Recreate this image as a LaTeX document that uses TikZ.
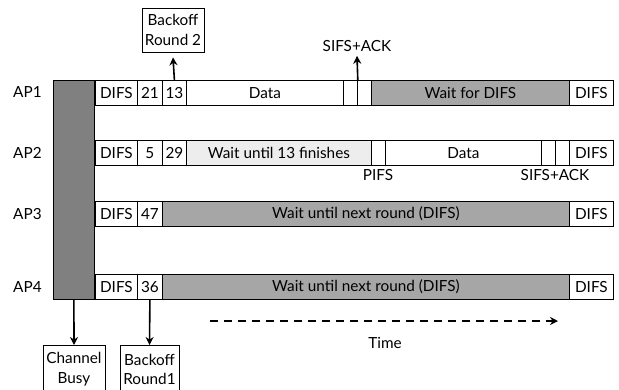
\documentclass[tikz,border=0pt]{standalone}
\usepackage{fontspec}
\setmainfont{Lato}
\usetikzlibrary{arrows.meta}
\definecolor{busyg}{gray}{0.5}
\definecolor{waitg}{gray}{0.65}
\definecolor{lightg}{gray}{0.93}
\begin{document}
\begin{tikzpicture}[x=1pt,y=-1pt,
  every node/.style={font=\fontsize{15.3}{19.5}\selectfont},
  cell/.style={draw, line width=0.8pt, inner sep=0pt, minimum height=25pt, anchor=north west, fill=white},
  lbl/.style={inner sep=0pt},
  tag/.style={draw, line width=0.8pt, align=center, inner sep=1pt, fill=white},
  arr/.style={line width=1.6pt, -{Stealth[length=8pt,width=8pt]}},
]
\useasboundingbox (0,0) rectangle (619,389);

% channel busy block
\node[draw, fill=busyg, line width=0.8pt, minimum width=41pt, minimum height=219pt, anchor=north west, inner sep=0pt] (busy) at (53,80) {};

% AP labels
\node[lbl, anchor=west] (ap1) at (13,92) {AP1};
\node[lbl, anchor=west] (ap2) at (13,153) {AP2};
\node[lbl, anchor=west] (ap3) at (13,214) {AP3};
\node[lbl, anchor=west] (ap4) at (13,287) {AP4};

% AP1 row
\node[cell, minimum width=42pt] (a1d) at (95,80) {DIFS};
\node[cell, minimum width=25pt] (a1b1) at (137,80) {21};
\node[cell, minimum width=24pt] (a1b2) at (162,80) {13};
\node[cell, minimum width=157pt] (a1data) at (186,80) {Data};
\node[cell, minimum width=14pt] (a1s1) at (343,80) {};
\node[cell, minimum width=14pt] (a1s2) at (357,80) {};
\node[cell, minimum width=198pt, fill=waitg] (a1w) at (371,80) {Wait for DIFS};
\node[cell, minimum width=44pt] (a1e) at (569,80) {DIFS};

% AP2 row
\node[cell, minimum width=42pt] (a2d) at (95,140) {DIFS};
\node[cell, minimum width=25pt] (a2b1) at (137,140) {5};
\node[cell, minimum width=24pt] (a2b2) at (162,140) {29};
\node[cell, minimum width=185pt, fill=lightg] (a2w) at (186,140) {Wait until 13 finishes};
\node[cell, minimum width=14pt] (a2p) at (371,140) {};
\node[cell, minimum width=156pt] (a2data) at (385,140) {Data};
\node[cell, minimum width=14pt] (a2s1) at (541,140) {};
\node[cell, minimum width=14pt] (a2s2) at (555,140) {};
\node[cell, minimum width=44pt] (a2e) at (569,140) {DIFS};

% AP3 row
\node[cell, minimum width=42pt] (a3d) at (95,201) {DIFS};
\node[cell, minimum width=25pt] (a3b1) at (137,201) {47};
\node[cell, minimum width=407pt, fill=waitg] (a3w) at (162,201) {Wait until next round (DIFS)};
\node[cell, minimum width=44pt] (a3e) at (569,201) {DIFS};

% AP4 row
\node[cell, minimum width=42pt] (a4d) at (95,274) {DIFS};
\node[cell, minimum width=25pt] (a4b1) at (137,274) {36};
\node[cell, minimum width=407pt, fill=waitg] (a4w) at (162,274) {Wait until next round (DIFS)};
\node[cell, minimum width=44pt] (a4e) at (569,274) {DIFS};

% labels and tags
\node[tag, minimum width=62pt, minimum height=44pt] (br2) at (173,30) {Backoff\\Round 2};
\node[lbl] (sa1) at (357,46) {SIFS+ACK};
\node[lbl, anchor=north] (pifs) at (378,169) {PIFS};
\node[lbl, anchor=north] (sa2) at (555,169) {SIFS+ACK};
\node[tag, minimum width=62pt, minimum height=48pt, anchor=north] (cb) at (74,345) {Channel\\Busy};
\node[tag, minimum width=59pt, minimum height=48pt, anchor=north] (br1) at (149.5,345) {Backoff\\Round1};
\coordinate (t0) at (210,321);
\coordinate (t1) at (558,321);
\node[lbl] (time) at (385,343) {Time};

% arrows
\draw[arr] (a1b2.north) -- ([yshift=-5pt]br2.south);
\draw[arr] (a1s1.north east) -- ([yshift=-4pt]sa1.south);
\draw[arr] (busy.south) -- (cb.north);
\draw[arr] (a4b1.south) -- (br1.north);
\draw[arr, dash pattern=on 8pt off 6pt] (t0) -- (t1);
\end{tikzpicture}
\end{document}
